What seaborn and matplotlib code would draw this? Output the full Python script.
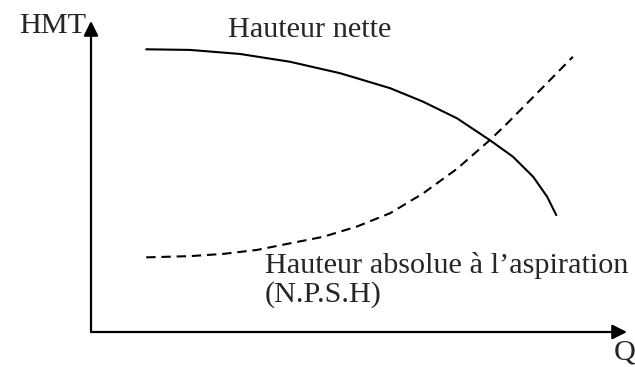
import numpy as np
import pandas as pd
import matplotlib
matplotlib.use('Agg')
import matplotlib.pyplot as plt
import seaborn as sns

q_nette = [1.03, 1.85, 2.78, 3.71, 4.65, 5.58, 6.19, 6.83, 7.44, 7.87, 8.25, 8.51, 8.68]
h_nette = [9.09, 9.07, 8.94, 8.69, 8.32, 7.84, 7.41, 6.87, 6.17, 5.64, 4.99, 4.35, 3.76]

q_npsh = [1.03, 1.85, 2.46, 3.10, 3.71, 4.33, 4.96, 5.58, 6.19, 6.83, 7.44, 7.76, 8.38, 8.99]
h_npsh = [2.40, 2.44, 2.51, 2.64, 2.85, 3.06, 3.39, 3.82, 4.45, 5.25, 6.17, 6.70, 7.78, 8.85]

W, H = 635, 367

sns.set_style('white')
plt.rcParams['font.family'] = ['Liberation Serif', 'DejaVu Serif']

fig = plt.figure(figsize=(W / 100, H / 100), dpi=100)
# origine des axes a (91, 332) px, fleches jusqu'a x=627 et y=21
ax = fig.add_axes([91 / W, 1 - 332 / H, (627 - 91) / W, (332 - 21) / H])

df1 = pd.DataFrame({'Q': q_nette, 'HMT': h_nette})
df2 = pd.DataFrame({'Q': q_npsh, 'HMT': h_npsh})
sns.lineplot(data=df1, x='Q', y='HMT', sort=False, color='black', lw=1.5, ax=ax)
sns.lineplot(data=df2, x='Q', y='HMT', sort=False, color='black', lw=1.5, ax=ax)
ax.lines[-1].set_dashes((4.5, 2.8))
for ln in ax.lines:
    ln.set_solid_joinstyle('round')
    ln.set_dash_joinstyle('round')

ax.set_xlim(0, 10)
ax.set_ylim(0, 10)
ax.set_xlabel('')
ax.set_ylabel('')
ax.set_xticks([])
ax.set_yticks([])
for s in ax.spines.values():
    s.set_visible(False)

arrow = dict(arrowstyle='-|>', color='black', lw=1.6, mutation_scale=22, shrinkA=0, shrinkB=0)
ax.annotate('', xy=(0, 1), xytext=(0, 0), xycoords='axes fraction', arrowprops=arrow)
ax.annotate('', xy=(1, 0), xytext=(0, 0), xycoords='axes fraction', arrowprops=arrow)

fs = 21.8
fig.text(86 / W, 1 - 33 / H, 'HMT', ha='right', va='baseline', fontsize=fs)
fig.text(614 / W, 1 - 359 / H, 'Q', ha='left', va='baseline', fontsize=fs)
fig.text(228 / W, 1 - 37 / H, 'Hauteur nette', ha='left', va='baseline', fontsize=fs)
fig.text(265 / W, 1 - 273 / H, 'Hauteur absolue à l\u2019aspiration', ha='left', va='baseline', fontsize=fs)
fig.text(265 / W, 1 - 302 / H, '(N.P.S.H)', ha='left', va='baseline', fontsize=fs)

fig.savefig('out.png', dpi=100)
